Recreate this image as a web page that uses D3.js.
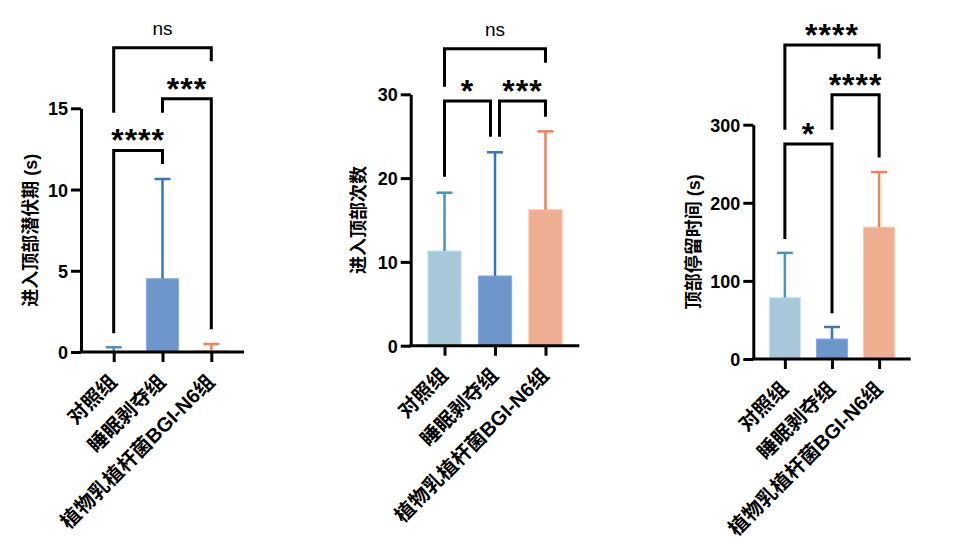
<!DOCTYPE html>
<html>
<head>
<meta charset="utf-8">
<script src="https://cdn.jsdelivr.net/npm/d3@7"></script>
<style>
  body { margin: 0; background: #fff; }
  svg { display: block; }
  text { font-family: "Liberation Sans", Arial, "Noto Sans CJK SC", sans-serif; }
</style>
</head>
<body>
<svg id="chart" width="967" height="539"></svg>
<script>
// groups shared by all three panels
const categories = ["对照组", "睡眠剥夺组", "植物乳植杆菌BGI-N6组"];
const barColors = ["#a7c8d9", "#6d97cb", "#edae92"];
const errColors = ["#4a92b8", "#3d73bd", "#e9845a"];

// panel 1: latency to enter top (s)
const latencyMean = [0.03, 4.51, 0.1];
const latencySD = [0.26, 6.14, 0.39];
const latencyTicks = [0, 5, 10, 15];
// [from, to, top, leftLegEnd, rightLegEnd, label]
const latencyBrackets = [
  [0, 2, 18.73, 14.73, 17.9, "ns"],
  [1, 2, 15.59, 14.73, 1.4, "***"],
  [0, 1, 12.41, 1.15, 11.57, "****"]
];

// panel 2: number of entries to top
const entriesMean = [11.3, 8.32, 16.23];
const entriesSD = [6.96, 14.76, 9.35];
const entriesTicks = [0, 10, 20, 30];
const entriesBrackets = [
  [0, 2, 35.44, 30.9, 33.77, "ns"],
  [0, 1, 29.2, 20.17, 24.94, "*"],
  [1, 2, 29.2, 24.94, 27.33, "***"]
];

// panel 3: time spent at top (s)
const timeMean = [78.6, 25.6, 168.8];
const timeSD = [57.3, 15.4, 70.6];
const timeTicks = [0, 100, 200, 300];
const timeBrackets = [
  [0, 2, 402.2, 293.6, 384.6, "****"],
  [1, 2, 338.5, 293.6, 258, "****"],
  [0, 1, 275.3, 153.5, 58.6, "*"]
];

const panels = [
  {title: "进入顶部潜伏期 (s)", mean: latencyMean, sd: latencySD, ticks: latencyTicks, brackets: latencyBrackets,
   x0: 81, w: 163, top: 108.3, bot: 352, titleDx: 50, nudge: 0},
  {title: "进入顶部次数", mean: entriesMean, sd: entriesSD, ticks: entriesTicks, brackets: entriesBrackets,
   x0: 410.7, w: 168.6, top: 94.3, bot: 345.7, titleDx: 52, nudge: 4.5},
  {title: "顶部停留时间 (s)", mean: timeMean, sd: timeSD, ticks: timeTicks, brackets: timeBrackets,
   x0: 753.3, w: 157.4, top: 124.7, bot: 359, titleDx: 60, nudge: 0}
];

const svg = d3.select("#chart");

panels.forEach(p => {
  const g = svg.append("g");

  const x = d3.scalePoint()
    .domain(categories)
    .range([p.x0, p.x0 + p.w])
    .padding(0.67);
  const y = d3.scaleLinear()
    .domain([0, d3.max(p.ticks)])
    .range([p.bot, p.top]);
  const bw = x.step() * 0.66;

  // bars
  g.selectAll("rect.bar")
    .data(categories)
    .join("rect")
    .attr("class", "bar")
    .attr("x", d => x(d) - bw / 2)
    .attr("y", (d, i) => y(p.mean[i]))
    .attr("width", bw)
    .attr("height", (d, i) => y(0) - y(p.mean[i]))
    .attr("fill", (d, i) => barColors[i])
    .attr("stroke", (d, i) => d3.color(barColors[i]).brighter(0.4))
    .attr("stroke-width", 1);

  // upward error bars
  categories.forEach((c, i) => {
    const cx = x(c), y1 = y(p.mean[i]), y2 = y(p.mean[i] + p.sd[i]);
    g.append("line")
      .attr("x1", cx).attr("x2", cx).attr("y1", y1).attr("y2", y2)
      .attr("stroke", errColors[i]).attr("stroke-width", 2.5);
    g.append("line")
      .attr("x1", cx - 8).attr("x2", cx + 8).attr("y1", y2).attr("y2", y2)
      .attr("stroke", errColors[i]).attr("stroke-width", 2.5);
  });

  // y axis
  const ya = g.append("g")
    .attr("transform", `translate(${p.x0},0)`)
    .call(d3.axisLeft(y).tickValues(p.ticks).tickSize(10).tickSizeOuter(0).tickPadding(3));
  ya.select(".domain").attr("stroke", "#000").attr("stroke-width", 3);
  ya.selectAll(".tick line").attr("stroke", "#000").attr("stroke-width", 3);
  ya.selectAll(".tick text")
    .attr("fill", "#000")
    .style("font-size", "18px")
    .style("font-weight", "bold")
    .attr("dy", "0.36em");

  // x axis
  const xa = g.append("g")
    .attr("transform", `translate(0,${p.bot})`)
    .call(d3.axisBottom(x).tickSize(10).tickSizeOuter(0));
  xa.select(".domain").attr("stroke", "#000").attr("stroke-width", 3)
    .attr("d", `M${p.x0 - 1.5},0H${p.x0 + p.w}`);
  xa.selectAll(".tick line").attr("stroke", "#000").attr("stroke-width", 3);
  xa.selectAll(".tick text")
    .attr("fill", "#000")
    .style("font-size", "20px")
    .style("font-weight", "bold")
    .attr("text-anchor", "end")
    .attr("x", 0).attr("y", 0).attr("dy", 0)
    .attr("transform", "translate(4,31) rotate(-45)");

  // axis title
  g.append("text")
    .attr("transform", `translate(${p.x0 - p.titleDx},${(p.top + p.bot) / 2}) rotate(-90)`)
    .attr("text-anchor", "middle")
    .attr("dy", "0.35em")
    .style("font-size", "18px")
    .style("font-weight", "bold")
    .text(p.title);

  // significance brackets
  p.brackets.forEach(([a, b, top, l, r, label]) => {
    let xl = x(categories[a]), xr = x(categories[b]);
    // adjacent brackets sharing a group are pushed apart a little
    if (p.nudge && b - a === 1) {
      if (a === 0) xr -= p.nudge; else xl += p.nudge;
    }
    const yt = y(top);
    g.append("path")
      .attr("d", `M${xl},${y(l)}V${yt}H${xr}V${y(r)}`)
      .attr("fill", "none")
      .attr("stroke", "#000")
      .attr("stroke-width", 3);
    const isNs = label === "ns";
    g.append("text")
      .attr("x", (xl + xr) / 2)
      .attr("y", isNs ? yt - 12.5 : yt + 1)
      .attr("text-anchor", "middle")
      .style("font-size", isNs ? "19px" : "32px")
      .style("font-weight", isNs ? "normal" : "bold")
      .style("letter-spacing", isNs ? "0px" : "1px")
      .text(label);
  });
});
</script>
</body>
</html>
